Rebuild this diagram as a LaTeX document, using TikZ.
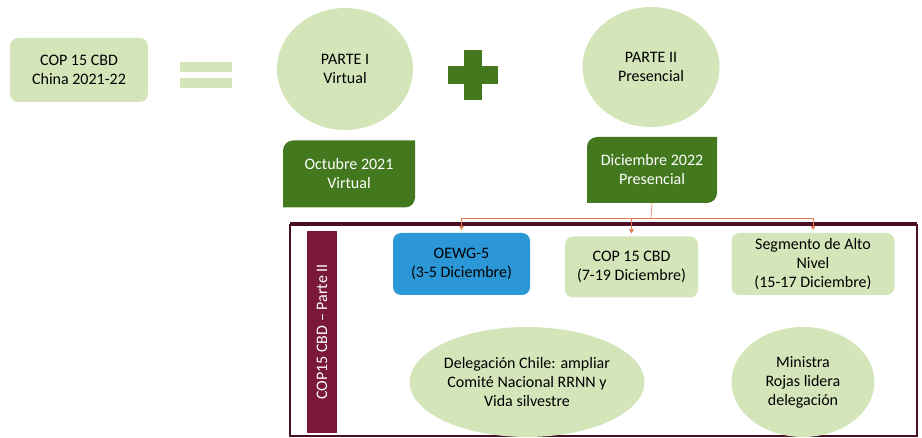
\documentclass[tikz,border=0pt]{standalone}
\usepackage{fontspec}
\setmainfont{Carlito}
\usepackage{tikz}
\usetikzlibrary{shapes.geometric}
\usetikzlibrary{arrows.meta}
\definecolor{lightgreen}{HTML}{D5E5BA}
\definecolor{darkgreen}{HTML}{44781F}
\definecolor{oewgblue}{HTML}{2B97D6}
\definecolor{maroon}{HTML}{7A1838}
\definecolor{framered}{HTML}{4A0E26}
\definecolor{linkorange}{HTML}{E27A55}

\tikzset{
  txt/.style={font=\fontsize{16}{19}\selectfont, align=center, text=black},
  lgbox/.style={txt, rectangle, rounded corners=8pt, fill=lightgreen, inner sep=0pt},
  lgoval/.style={txt, ellipse, fill=lightgreen, inner sep=0pt},
  dgbox/.style={txt, text=white, rectangle, inner sep=0pt,
    path picture={\fill[darkgreen] (path picture bounding box.south west) -- (path picture bounding box.west)
      [rounded corners=10pt] -- (path picture bounding box.north west) -- (path picture bounding box.north)
      [sharp corners] -- (path picture bounding box.north east) -- (path picture bounding box.east)
      [rounded corners=10pt] -- (path picture bounding box.south east) -- (path picture bounding box.south)
      [sharp corners] -- cycle;}},
  link/.style={draw=linkorange, line width=0.6pt},
  linkarrow/.style={link, -{Triangle[length=4pt,width=5pt]}, shorten >=3pt},
}

\begin{document}
\begin{tikzpicture}[x=1pt,y=-1pt]
  \useasboundingbox (0,0) rectangle (922,438);

  \node[lgbox, minimum width=138pt, minimum height=64pt] (cop) at (79,70) {COP 15 CBD\\China 2021-22};
  \fill[lightgreen] (180,62) rectangle (232,72);
  \fill[lightgreen] (180,78) rectangle (232,88);
  \node[lgoval, minimum width=136pt, minimum height=122pt] (parte1) at (345,69) {PARTE I\\Virtual};
  \fill[darkgreen] (464,50) rectangle (482,100);
  \fill[darkgreen] (448,66) rectangle (498,84);
  \node[lgoval, minimum width=137pt, minimum height=120pt] (parte2) at (651,67) {PARTE II\\Presencial};

  \node[dgbox, minimum width=132pt, minimum height=67pt] (oct) at (349,174) {Octubre 2021\\Virtual};
  \node[dgbox, minimum width=130pt, minimum height=66pt] (dic) at (652,170) {Diciembre 2022\\Presencial};

  \draw[draw=framered, line width=2.5pt] (290,225) rectangle (917,436);
  \draw[draw=framered, line width=4.5pt] (290,224) -- (917,224);
  \node[txt, text=white, fill=maroon, rotate=90, minimum width=202pt, minimum height=30pt, inner sep=0pt] (parte) at (322,332) {COP15 CBD – Parte II};

  \node[txt, rectangle, rounded corners=8pt, fill=oewgblue, inner sep=0pt, minimum width=137pt, minimum height=62pt] (oewg) at (461.5,264) {OEWG-5\\(3-5 Diciembre)};
  \node[lgbox, minimum width=133pt, minimum height=61pt] (cop15) at (631.5,267) {COP 15 CBD\\(7-19 Diciembre)};
  \node[lgbox, minimum width=163pt, minimum height=62pt] (seg) at (813,264) {Segmento de Alto\\Nivel\\(15-17 Diciembre)};

  \node[lgoval, minimum width=224pt, minimum height=110pt] (dele) at (527,382) {Delegación Chile: ampliar\\Comité Nacional RRNN y\\Vida silvestre};
  \node[lgoval, minimum width=143pt, minimum height=110pt] (mini) at (803,382) {Ministra\\Rojas lidera\\delegación};

  \coordinate (split) at (651,218);
  \draw[link] (dic.south) -- (split);
  \draw[linkarrow] (split) -| (oewg.north);
  \draw[linkarrow] (split) -| (cop15.north);
  \draw[linkarrow] (split) -| (seg.north);
\end{tikzpicture}
\end{document}
